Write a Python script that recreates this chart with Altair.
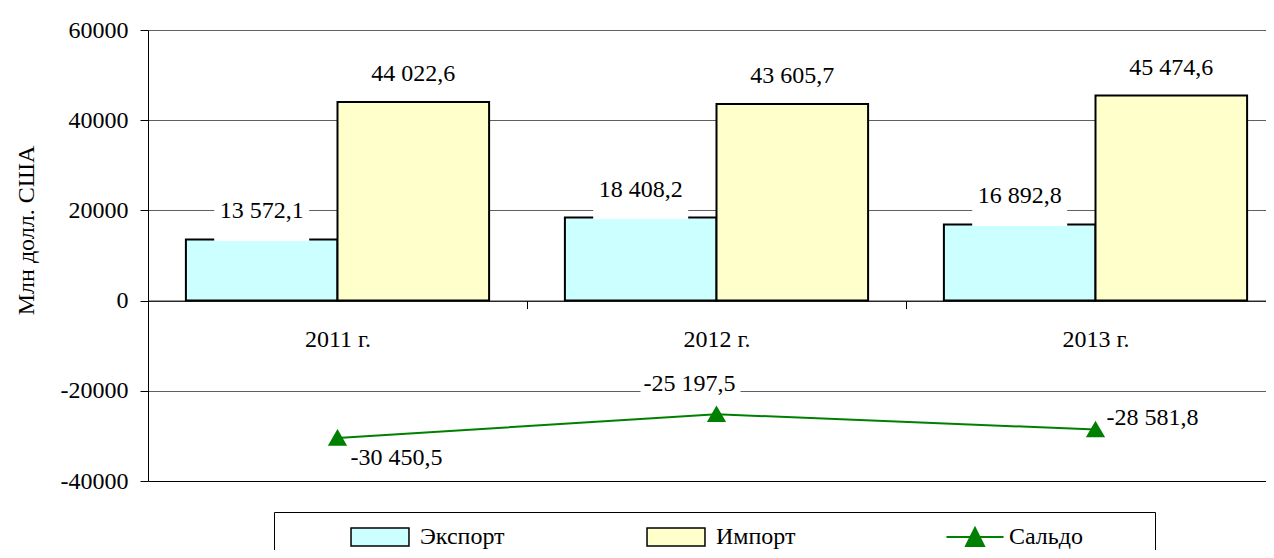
import altair as alt
import pandas as pd

# ---- data ----
years = ["2011 г.", "2012 г.", "2013 г."]
export_vals = [13572.1, 18408.2, 16892.8]
import_vals = [44022.6, 43605.7, 45474.6]
saldo_vals = [-30450.5, -25197.5, -28581.8]
bar_series = ["Экспорт", "Импорт"]
bar_colors = ["#CCFFFF", "#FFFFCC"]
line_series = "Сальдо"
line_color = "#008000"
y_ticks = [-40000, -20000, 0, 20000, 40000, 60000]
y_title = "Млн долл. США"

bars_df = pd.DataFrame({
    "year": years * 2,
    "series": [bar_series[0]] * 3 + [bar_series[1]] * 3,
    "value": export_vals + import_vals,
})
saldo_df = pd.DataFrame({"year": years, "series": line_series, "value": saldo_vals})

FONT = "Liberation Serif"
FS = 24
# Russian-style number text: "13 572,1", "-30 450,5"
LABEL_EXPR = ("replace(replace(replace(format(datum.value, ',.1f'), regexp(',', 'g'), ' '),"
              " '.', ','), '\u2212', '-')")

x_enc = alt.X(
    "year:N", sort=years,
    scale=alt.Scale(domain=years, paddingInner=0, paddingOuter=0, range=[0, 1137]),
    axis=alt.Axis(title=None, orient="bottom", offset=-180.4, domainColor="black",
                  tickColor="black", tickSize=8, tickBand="extent", labelPadding=19,
                  labelAngle=0, labelFontSize=FS, labelFont=FONT, labelColor="black",
                  grid=False),
)
y_enc = alt.Y(
    "value:Q",
    scale=alt.Scale(domain=[-40000, 60000], nice=False, zero=False),
    axis=alt.Axis(values=y_ticks, format="d", labelExpr="replace(datum.label, '\u2212', '-')",
                  title=y_title, titleX=-122, titleY=200,
                  titleAngle=270, titleBaseline="middle", titleAlign="center",
                  titleFontSize=FS, titleFontWeight="normal", titleFont=FONT,
                  titleColor="black", labelFontSize=FS, labelFont=FONT, labelColor="black",
                  tickSize=8, tickColor="black", domainColor="black", labelPadding=12,
                  grid=True,
                  gridColor={"condition": {"test": "datum.value === -40000", "value": "black"},
                             "value": "#606060"}),
)
xoff_enc = alt.XOffset(
    "series:N",
    scale=alt.Scale(domain=bar_series, paddingOuter=0.25, paddingInner=0),
)

legend_bars = alt.Legend(
    title=" ", titleOrient="right", titlePadding=346, titleFontSize=1,
    orient="none", legendX=126, legendY=482, direction="horizontal", columns=2,
    gridAlign="all", columnPadding=78, padding=13, symbolOffset=81,
    symbolType="M-3.22,-1H3.22V1H-3.22Z", symbolSize=324,
    symbolStrokeColor="black", symbolStrokeWidth=1.5, symbolOpacity=1,
    labelOffset=28, labelFontSize=FS, labelFont=FONT, labelColor="black",
    strokeColor="black",
)
legend_line = alt.Legend(
    title=None, orient="none", legendX=815, legendY=495, direction="horizontal",
    padding=0, symbolOffset=0,
    symbolType="M-3.17,0H3.17M-1,1L0,-1L1,1Z", symbolSize=324,
    symbolStrokeColor=line_color, symbolFillColor=line_color, symbolStrokeWidth=2,
    symbolOpacity=1, labelOffset=22, labelFontSize=FS, labelFont=FONT, labelColor="black",
)

fill_enc = alt.Fill("series:N", scale=alt.Scale(domain=bar_series, range=bar_colors),
                    legend=legend_bars)
stroke_enc = alt.Stroke("series:N", scale=alt.Scale(domain=[line_series], range=[line_color]),
                        legend=legend_line)

bars = alt.Chart(bars_df).mark_bar(stroke="black", strokeWidth=2, opacity=1).encode(
    x=x_enc, xOffset=xoff_enc, y=y_enc, fill=fill_enc)

boxes = alt.Chart(bars_df).transform_filter(f"datum.series === '{bar_series[0]}'").mark_rect(
    fill="white", strokeWidth=0, width=95, height=44, yOffset=-20.5).encode(
    x=x_enc, xOffset=xoff_enc, y=y_enc)

bar_labels = alt.Chart(bars_df).transform_calculate(label=LABEL_EXPR).mark_text(
    dy=-28, baseline="middle", fontSize=FS, font=FONT, color="black").encode(
    x=x_enc, xOffset=xoff_enc, y=y_enc, text="label:N")

line = alt.Chart(saldo_df).mark_line(
    strokeWidth=2,
    point=alt.OverlayMarkDef(filled=True, fill=line_color, shape="triangle-up", size=250,
                             opacity=1),
).encode(x=x_enc, y=y_enc, stroke=stroke_enc)

# label placement styles for the balance labels (pixels)
saldo_styles = [
    dict(align="left", dx=13, dy=20, bx=59, by=20),
    dict(align="center", dx=-27, dy=-30, bx=-26, by=-29),
    dict(align="left", dx=11, dy=-12, bx=57, by=-12),
]
saldo_boxes, saldo_texts = [], []
for yr, st in zip(years, saldo_styles):
    base = alt.Chart(saldo_df).transform_filter(f"datum.year === '{yr}'")
    saldo_boxes.append(base.mark_rect(fill="white", strokeWidth=0, width=100, height=26,
                                      xOffset=st["bx"], yOffset=st["by"]).encode(x=x_enc, y=y_enc))
    saldo_texts.append(base.transform_calculate(label=LABEL_EXPR).mark_text(
        align=st["align"], dx=st["dx"], dy=st["dy"], baseline="middle", fontSize=FS,
        font=FONT, color="black").encode(x=x_enc, y=y_enc, text="label:N"))

chart = alt.layer(bars, boxes, bar_labels, *saldo_boxes, line, *saldo_texts).properties(
    width=1118, height=451,
    autosize=alt.AutoSizeParams(type="none"),
    padding={"left": 140, "top": 22, "right": 0, "bottom": 69},
).configure_view(stroke=None)

chart.save("out.html", embed_options={"renderer": "svg", "actions": False})
